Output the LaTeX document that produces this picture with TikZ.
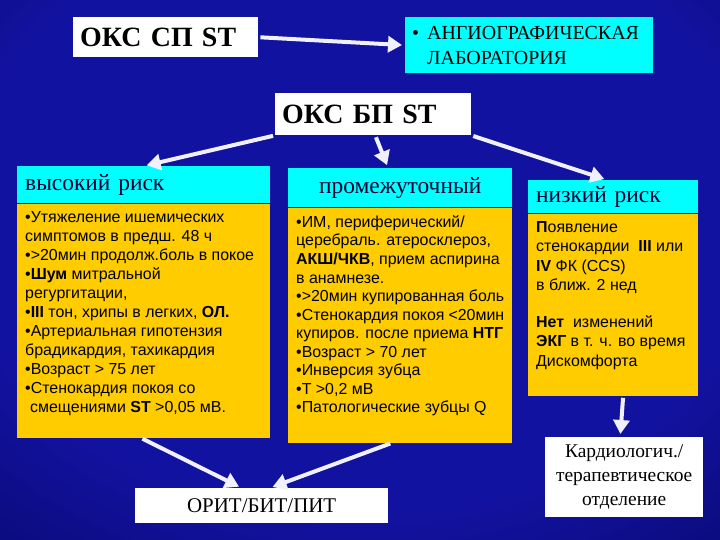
\documentclass[tikz,border=0pt]{standalone}
\usepackage{fontspec}
\setmainfont{Liberation Serif}
\setsansfont{Liberation Sans}
\usetikzlibrary{positioning,arrows.meta}

\definecolor{bgin}{RGB}{18,18,160}
\definecolor{bgmid}{RGB}{6,6,100}
\definecolor{bgout}{RGB}{0,0,45}
\definecolor{cyanbox}{RGB}{0,255,255}
\definecolor{goldbox}{RGB}{255,204,0}
\definecolor{inkblue}{RGB}{0,0,50}
\definecolor{arrwhite}{RGB}{240,240,255}
\pgfdeclareradialshading{bgglow}{\pgfpoint{0bp}{8bp}}{color(0bp)=(bgin); color(28bp)=(bgin); color(47bp)=(bgmid); color(58bp)=(bgout); color(80bp)=(bgout)}

\begin{document}
\begin{tikzpicture}[x=1bp,y=-1bp,
    titlebox/.style={fill=white, anchor=north west, inner xsep=7bp, inner ysep=0bp, align=left,
      font=\bfseries\fontsize{28}{30}\selectfont},
    angbox/.style={fill=cyanbox, anchor=north west, inner xsep=7bp, inner ysep=0bp, align=left,
      font=\fontsize{20}{25}\selectfont},
    hdr/.style={fill=cyanbox, anchor=north west, inner xsep=8bp, inner ysep=0bp, text=inkblue,
      font=\fontsize{23.5}{25}\selectfont},
    body/.style={fill=goldbox, inner xsep=8bp, inner ysep=8bp, font=\sffamily},
    whitebox/.style={fill=white, anchor=north west, inner sep=0bp, align=center},
    arr/.style={draw=arrwhite, line width=4bp, shorten >=3bp, shorten <=2bp,
      -{Triangle[length=14bp,width=16bp]}}]
    \shade[shading=bgglow] (0,0) rectangle (720,540);
    \useasboundingbox (0,0) rectangle (720,540);
    % top row
    \node[titlebox, minimum width=185bp, minimum height=40bp, text width=171bp] (sp) at (73,17) {ОКС СП ST};
    \node[angbox, minimum width=248bp, minimum height=56bp, text width=234bp] (ang) at (405,17)
      {\makebox[15bp][l]{\textbullet}АНГИОГРАФИЧЕСКАЯ\\\hspace*{15bp}ЛАБОРАТОРИЯ};
    \node[titlebox, minimum width=196bp, minimum height=42bp, text width=182bp] (bp) at (275,93) {ОКС БП ST};
    % risk groups
    \node[hdr, minimum width=253bp, minimum height=37bp, text width=237bp, align=left] (hi) at (17,166) {высокий риск};
    \node[hdr, minimum width=224bp, minimum height=39bp, text width=208bp, align=center] (mid) at (288,168) {промежуточный};
    \node[hdr, minimum width=170bp, minimum height=33bp, text width=154bp, align=left] (low) at (528,180) {низкий риск};
    \node[body, below=0bp of hi] (hib) {\parbox[t][218bp][t]{237bp}{\raggedright\fontsize{16}{19.1}\selectfont
      •Утяжеление ишемических\\
      симптомов в предш. 48 ч\\
      •>20мин продолж.боль в покое\\
      •\textbf{Шум} митральной\\
      регургитации,\\
      •\textbf{III} тон, хрипы в легких, \textbf{ОЛ.}\\
      •Артериальная гипотензия\\
      брадикардия, тахикардия\\
      •Возраст > 75 лет\\
      •Стенокардия покоя со\\
      \hspace*{5bp}смещениями \textbf{ST} >0,05 мВ.}};
    \node[body, below=0bp of mid] (midb) {\parbox[t][219bp][t]{208bp}{\raggedright\fontsize{16}{18.6}\selectfont
      •ИМ, периферический/\\
      церебраль. атеросклероз,\\
      \textbf{АКШ/ЧКВ}, прием аспирина\\
      в анамнезе.\\
      •>20мин купированная боль\\
      •Стенокардия покоя <20мин\\
      купиров. после приема \textbf{НТГ}\\
      •Возраст > 70 лет\\
      •Инверсия зубца\\
      •T >0,2 мВ\\
      •Патологические зубцы Q}};
    \node[body, below=0bp of low] (lowb) {\parbox[t][166bp][t]{154bp}{\raggedright\fontsize{16}{19.5}\selectfont
      \textbf{П}оявление\\
      стенокардии~ \textbf{III} или\\
      \textbf{IV} ФК (CCS)\\
      в ближ. 2 нед\\[17bp]
      \textbf{Нет}~ изменений\\
      \textbf{ЭКГ} в т. ч. во время\\
      Дискомфорта}};
    % destinations
    \node[whitebox, minimum width=253bp, minimum height=35bp, font=\fontsize{21}{23}\selectfont] (orit) at (135,488) {ОРИТ/БИТ/ПИТ};
    \node[whitebox, minimum width=158bp, minimum height=80bp, font=\fontsize{19.5}{24}\selectfont] (card) at (545,437)
      {Кардиологич./\\терапевтическое\\отделение};
    % arrows
    \draw[arr] (sp.east) -- (ang.west);
    \draw[arr] (bp.south west) -- (hi.north);
    \draw[arr] ([xshift=2bp]bp.south) -- ([xshift=-12bp]mid.north);
    \draw[arr] (bp.south east) -- ([xshift=-6bp]low.north);
    \draw[arr] ([xshift=-3bp]hib.south) -- ([xshift=-20bp]orit.north);
    \draw[arr] ([xshift=-8bp]midb.south) -- ([xshift=8bp]orit.north);
    \draw[arr] ([xshift=10bp]lowb.south) -- ([xshift=-4bp]card.north);
\end{tikzpicture}
\end{document}
